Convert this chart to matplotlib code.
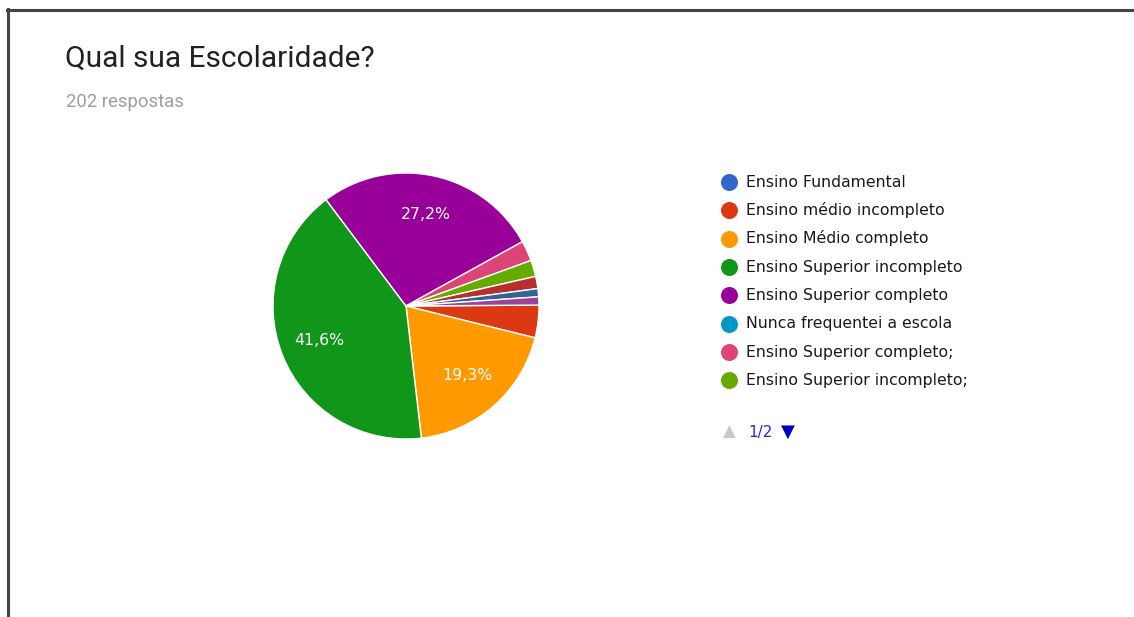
import matplotlib
matplotlib.use("Agg")
import matplotlib.pyplot as plt
from matplotlib.lines import Line2D

W, H = 1134, 617

title = "Qual sua Escolaridade?"
subtitle = "202 respostas"

legend_labels = [
    "Ensino Fundamental",
    "Ensino médio incompleto",
    "Ensino Médio completo",
    "Ensino Superior incompleto",
    "Ensino Superior completo",
    "Nunca frequentei a escola",
    "Ensino Superior completo;",
    "Ensino Superior incompleto;",
]
legend_colors = ["#3366cc", "#dc3912", "#ff9900", "#109618", "#990099",
                 "#0099c6", "#dd4477", "#66aa00"]

# slices in drawing order (clockwise), counts out of 202
slice_counts = [8, 39, 84, 55, 5, 4, 3, 2, 2]
slice_colors = ["#dc3912", "#ff9900", "#109618", "#990099", "#dd4477",
                "#66aa00", "#b82e2e", "#316395", "#994499"]
pager_text = "1/2"

fig = plt.figure(figsize=(W / 100, H / 100), dpi=100)
ax = fig.add_axes([0, 0, 1, 1])
ax.axis("off")

def Y(y):
    return H - y

cx, cy, r = 406, 306, 133

def pct(p):
    return (f"{p:.1f}".replace(".", ",") + "%") if p > 5 else ""

wedges, texts, autotexts = ax.pie(
    slice_counts, colors=slice_colors, startangle=0.4, counterclock=False,
    center=(cx, Y(cy)), radius=r, autopct=pct, pctdistance=0.7,
    wedgeprops=dict(edgecolor="white", linewidth=1.0),
    textprops=dict(color="white", fontsize=11.3, family="DejaVu Sans"),
    frame=False,
)
ax.set_xlim(0, W)
ax.set_ylim(0, H)
ax.set_aspect("auto")

# title and subtitle
ax.text(65, Y(67), title, fontsize=21.5, family="Roboto", color="#202124",
        va="baseline", ha="left")
ax.text(66, Y(107), subtitle, fontsize=13.3, family="Roboto", color="#9e9e9e",
        va="baseline", ha="left")

# legend
y0, dy = 182, 28.3
for i, (lab, col) in enumerate(zip(legend_labels, legend_colors)):
    yy = y0 + i * dy
    ax.scatter([728.5], [Y(yy)], s=150, color=col, zorder=5, linewidths=0)
    ax.text(746, Y(yy + 4.7), lab, fontsize=11.3, family="DejaVu Sans",
            color="#1a1a1a", va="baseline", ha="left")

# pager
ax.text(729, Y(432), "▲", fontsize=12, color="#c8c8c8", ha="center", va="center",
        family="DejaVu Sans")
ax.text(748, Y(432), pager_text, fontsize=11, color="#2929c8", ha="left",
        va="center", family="DejaVu Sans")
ax.text(788, Y(432), "▼", fontsize=13, color="#0000c0", ha="center", va="center",
        family="DejaVu Sans")

# frame lines (top and left)
fig.add_artist(Line2D([7, W], [Y(10), Y(10)], transform=None, color="#444444", linewidth=2.2))
fig.add_artist(Line2D([8, 8], [Y(9), 0], transform=None, color="#444444", linewidth=2.2))

fig.savefig("out.png", dpi=100)
